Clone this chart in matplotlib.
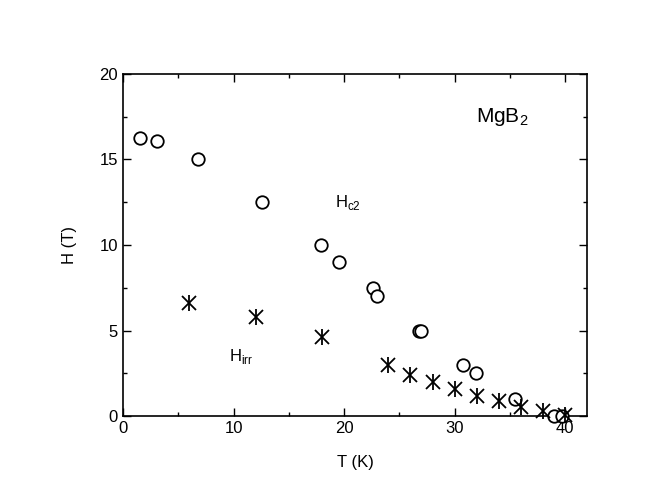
import numpy as np
import matplotlib.pyplot as plt
from matplotlib.ticker import MultipleLocator

plt.rcParams['font.family'] = ['Liberation Sans', 'DejaVu Sans']

# Hc2 (circulos)
T_c2 = [1.5, 3.1, 6.8, 12.6, 17.9, 19.5, 22.6, 23.0, 26.8, 27.0, 30.8, 31.9, 35.5, 39.0, 39.7]
H_c2 = [16.25, 16.05, 15.0, 12.5, 10.0, 9.0, 7.5, 7.0, 5.0, 5.0, 3.0, 2.5, 1.0, 0.0, 0.0]

# Hirr (asteriscos)
T_irr = [6, 12, 18, 24, 26, 28, 30, 32, 34, 36, 38, 40]
H_irr = [6.6, 5.8, 4.6, 3.0, 2.4, 2.0, 1.6, 1.2, 0.9, 0.55, 0.28, 0.05]

fig = plt.figure(figsize=(6.54, 4.99), dpi=100)
ax = fig.add_axes([0.188, 0.166, 0.71, 0.686])

ax.plot(T_c2, H_c2, 'o', mfc='white', mec='black', ms=9, mew=1.3, ls='none', zorder=3, clip_on=False)
# asterisco = cruz diagonal + barra vertical
ax.plot(T_irr, H_irr, 'x', color='black', ms=10, mew=1.3, ls='none', zorder=4, clip_on=False)
ax.plot(T_irr, H_irr, '|', color='black', ms=11, mew=1.3, ls='none', zorder=4, clip_on=False)

ax.set_xlim(0, 42)
ax.set_ylim(0, 20)
ax.xaxis.set_major_locator(MultipleLocator(10))
ax.xaxis.set_minor_locator(MultipleLocator(5))
ax.yaxis.set_major_locator(MultipleLocator(5))
ax.yaxis.set_minor_locator(MultipleLocator(2.5))
ax.tick_params(which='both', direction='in', top=True, right=True, labelsize=12, width=1)
ax.tick_params(which='major', length=6)
ax.tick_params(which='minor', length=3)
for s in ax.spines.values():
    s.set_linewidth(1.2)

ax.set_xlabel('T (K)', fontsize=12, labelpad=14)
ax.set_ylabel('H (T)', fontsize=12, labelpad=16)

ax.text(31.9, 17.5, r'MgB$_\mathregular{2}$', fontsize=15, va='center')
ax.text(19.2, 12.5, r'H$_\mathregular{c2}$', fontsize=12, va='center')
ax.text(9.6, 3.5, r'H$_\mathregular{irr}$', fontsize=12, va='center')

fig.savefig('out.png', dpi=100)
